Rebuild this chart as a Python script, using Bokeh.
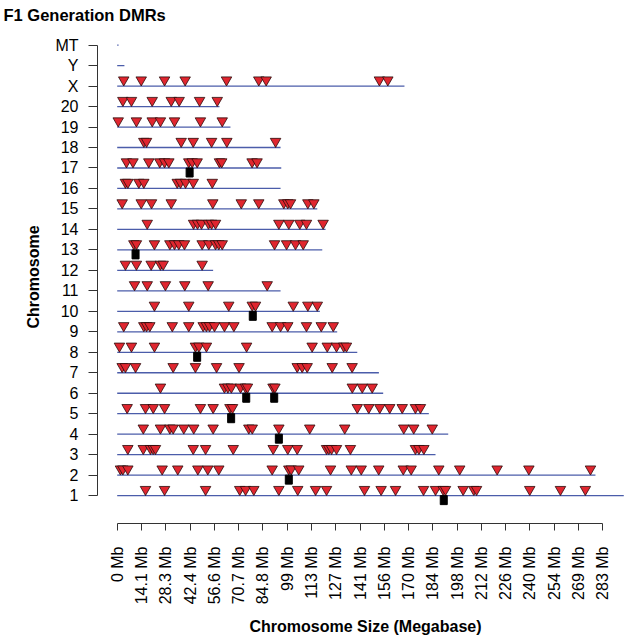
import math
from bokeh.plotting import figure
from bokeh.models import Range1d, FixedTicker, ColumnDataSource
from bokeh.embed import file_html
from bokeh.resources import INLINE

# ---------------- data ----------------
title_text = "F1 Generation DMRs"
chrom_labels = ["1", "2", "3", "4", "5", "6", "7", "8", "9", "10", "11", "12",
                "13", "14", "15", "16", "17", "18", "19", "20", "X", "Y", "MT"]
chrom_lengths = [295.2, 278.7, 185.5, 192.9, 181.6, 155.0, 152.5, 139.9, 128.2, 118.1,
                 95.2, 55.9, 119.5, 121.4, 116.6, 95.2, 95.6, 95.2, 66.0, 59.6,
                 167.4, 4.2, 0.8]

dmr_chr1 = [16.5, 27.6, 51.5, 71.4, 74.8, 79.6, 94.2, 105.2, 115.6, 122.0, 144.1, 153.8,
            162.2, 178.5, 185.5, 190.0, 191.3, 201.6, 207.8, 209.4, 240.4, 258.3, 272.8]
dmr_chr2 = [1.9, 3.3, 6.2, 26.2, 35.3, 47.0, 52.8, 59.2, 90.3, 100.0, 101.4, 105.8, 124.3,
            136.4, 142.2, 152.4, 166.7, 171.3, 187.4, 199.6, 221.4, 239.9, 275.8]
dmr_chr3 = [6.2, 15.2, 19.4, 21.0, 22.3, 44.3, 51.5, 67.6, 90.9, 99.4, 104.9, 122.0, 123.3,
            124.9, 127.8, 135.9, 173.8, 175.8, 178.7]
dmr_chr4 = [15.2, 25.2, 30.7, 32.6, 38.8, 44.6, 55.9, 76.7, 78.7, 94.2, 112.2, 132.6,
            167.0, 172.8, 183.6]
dmr_chr5 = [5.8, 16.5, 21.0, 27.6, 48.5, 55.9, 65.7, 67.2, 139.9, 146.6, 153.0, 158.8,
            166.1, 173.8, 176.7]
dmr_chr6 = [25.2, 62.5, 64.5, 66.5, 71.9, 74.8, 75.9, 90.8, 91.9, 137.0, 142.8, 148.6]
dmr_chr7 = [2.9, 4.8, 10.7, 32.6, 45.6, 57.9, 71.0, 104.9, 107.8, 110.7, 125.3, 136.9]
dmr_chr8 = [1.3, 8.3, 21.7, 45.6, 47.6, 52.0, 75.4, 113.6, 122.4, 127.8, 132.0, 133.6]
dmr_chr9 = [3.8, 15.5, 17.1, 19.0, 32.1, 41.7, 50.1, 52.0, 53.8, 56.7, 62.5, 68.0, 90.3,
            95.2, 99.4, 110.3, 118.9, 125.9]
dmr_chr10 = [21.7, 41.7, 65.0, 78.7, 80.6, 102.6, 111.1, 116.6]
dmr_chr11 = [10.1, 17.5, 28.1, 39.4, 53.0, 87.4]
dmr_chr12 = [4.8, 11.2, 19.8, 25.2, 26.8, 49.5]
dmr_chr13 = [9.7, 11.2, 21.7, 30.7, 33.4, 35.9, 39.2, 49.5, 53.4, 57.3, 59.2, 61.2, 91.7,
             98.7, 103.9, 108.4]
dmr_chr14 = [17.5, 44.5, 46.8, 49.1, 53.2, 55.0, 57.3, 94.2, 100.0, 106.4, 110.3, 120.0]
dmr_chr15 = [2.9, 14.0, 20.0, 31.5, 55.7, 72.3, 82.5, 97.1, 99.4, 101.0, 111.1, 114.6]
dmr_chr16 = [4.8, 6.2, 12.6, 15.5, 35.0, 36.9, 39.8, 44.3, 55.4]
dmr_chr17 = [5.4, 9.2, 18.4, 24.8, 27.6, 30.1, 41.7, 43.7, 46.6, 59.6, 60.9, 78.6, 81.5]
dmr_chr18 = [15.5, 17.1, 37.3, 44.3, 55.0, 63.9, 92.3]
dmr_chr19 = [0.6, 11.2, 20.4, 25.2, 33.4, 48.5, 61.2]
dmr_chr20 = [3.3, 8.3, 20.4, 31.5, 36.1, 48.0, 58.3]
dmr_chrX = [3.8, 14.0, 27.6, 39.6, 63.7, 82.5, 86.8, 152.8, 157.7]
dmr_chrY = []
dmr_chrMT = []

feature_chrom = ["17", "13", "10", "8", "6", "6", "5", "4", "2", "1"]
feature_pos = [42.2, 10.7, 79.0, 46.6, 75.2, 91.5, 66.4, 94.2, 100.0, 190.3]

x_ticks = [0.0, 14.15, 28.3, 42.45, 56.6, 70.75, 84.9, 99.05, 113.2, 127.35, 141.5,
           155.65, 169.8, 183.95, 198.1, 212.25, 226.4, 240.55, 254.7, 268.85, 283.0]
x_tick_labels = ["0 Mb", "14.1 Mb", "28.3 Mb", "42.4 Mb", "56.6 Mb", "70.7 Mb", "84.8 Mb",
                 "99 Mb", "113 Mb", "127 Mb", "141 Mb", "156 Mb", "170 Mb", "184 Mb",
                 "198 Mb", "212 Mb", "226 Mb", "240 Mb", "254 Mb", "269 Mb", "283 Mb"]

dmr_lists = [dmr_chr1, dmr_chr2, dmr_chr3, dmr_chr4, dmr_chr5, dmr_chr6, dmr_chr7,
             dmr_chr8, dmr_chr9, dmr_chr10, dmr_chr11, dmr_chr12, dmr_chr13, dmr_chr14,
             dmr_chr15, dmr_chr16, dmr_chr17, dmr_chr18, dmr_chr19, dmr_chr20,
             dmr_chrX, dmr_chrY, dmr_chrMT]

# ---------------- build sources ----------------
row_of = {lab: i + 1 for i, lab in enumerate(chrom_labels)}
seg_src = ColumnDataSource(dict(
    x0=[0.0] * len(chrom_labels), x1=chrom_lengths,
    y=[row_of[c] for c in chrom_labels]))

tx, ty = [], []
for lab, lst in zip(chrom_labels, dmr_lists):
    for v in lst:
        tx.append(v)
        ty.append(row_of[lab] + 0.3)
tri_src = ColumnDataSource(dict(x=tx, y=ty))

sq_src = ColumnDataSource(dict(x=feature_pos, y=[row_of[c] - 0.22 for c in feature_chrom]))

FONT = "Liberation Sans"

p = figure(width=633, height=638,
           x_range=Range1d(-11.48, 300.87), y_range=Range1d(-0.362, 23.715),
           output_backend="svg", toolbar_location=None,
           min_border_left=97, min_border_right=0, min_border_top=30,
           min_border_bottom=113, title=title_text)

p.title.text_font = FONT
p.title.text_font_size = "16.5px"
p.title.text_font_style = "bold"
p.title.text_color = "#000000"
p.title.align = "left"
p.title.vertical_align = "top"
p.title.offset = -94
p.title.standoff = 10

p.xgrid.visible = False
p.ygrid.visible = False
p.outline_line_color = None
p.background_fill_color = "white"
p.border_fill_color = "white"

p.segment(x0="x0", y0="y", x1="x1", y1="y", source=seg_src,
          line_color="#4B5DAA", line_width=1.3)
p.scatter(x="x", y="y", source=tri_src, marker="inverted_triangle", size=10.5,
          fill_color="#E0262F", line_color="#2a0b0b", line_width=0.8)
p.rect(x="x", y="y", width=7, height=9, width_units="screen", height_units="screen",
       source=sq_src, fill_color="black", line_color="black")

ax = p.xaxis[0]
ax.ticker = FixedTicker(ticks=x_ticks)
ax.major_label_overrides = dict(zip(x_ticks, x_tick_labels))
ax.major_label_orientation = math.pi / 2
ax.bounds = (0, 283)
ax.major_tick_out = 7
ax.major_tick_in = 0
ax.minor_tick_line_color = None
ax.major_label_standoff = 16
ax.major_label_text_font = FONT
ax.major_label_text_font_size = "16px"
ax.major_label_text_color = "#000000"
ax.axis_line_color = "#333333"
ax.major_tick_line_color = "#333333"
ax.axis_label = "Chromosome Size (Megabase)"
ax.axis_label_text_font = FONT
ax.axis_label_text_font_size = "16px"
ax.axis_label_text_font_style = "bold"
ax.axis_label_text_color = "#000000"
ax.axis_label_standoff = 11

ay = p.yaxis[0]
ay.ticker = FixedTicker(ticks=list(range(1, len(chrom_labels) + 1)))
ay.major_label_overrides = {i + 1: lab for i, lab in enumerate(chrom_labels)}
ay.bounds = (1, len(chrom_labels))
ay.major_tick_out = 9
ay.major_tick_in = 0
ay.minor_tick_line_color = None
ay.major_label_standoff = 10
ay.major_label_text_font = FONT
ay.major_label_text_font_size = "16px"
ay.major_label_text_color = "#000000"
ay.axis_line_color = "#333333"
ay.major_tick_line_color = "#333333"
ay.axis_label = "Chromosome"
ay.axis_label_text_font = FONT
ay.axis_label_text_font_size = "16px"
ay.axis_label_text_font_style = "bold"
ay.axis_label_text_color = "#000000"
ay.axis_label_standoff = 10

open("out.html", "w").write(file_html(p, INLINE))
